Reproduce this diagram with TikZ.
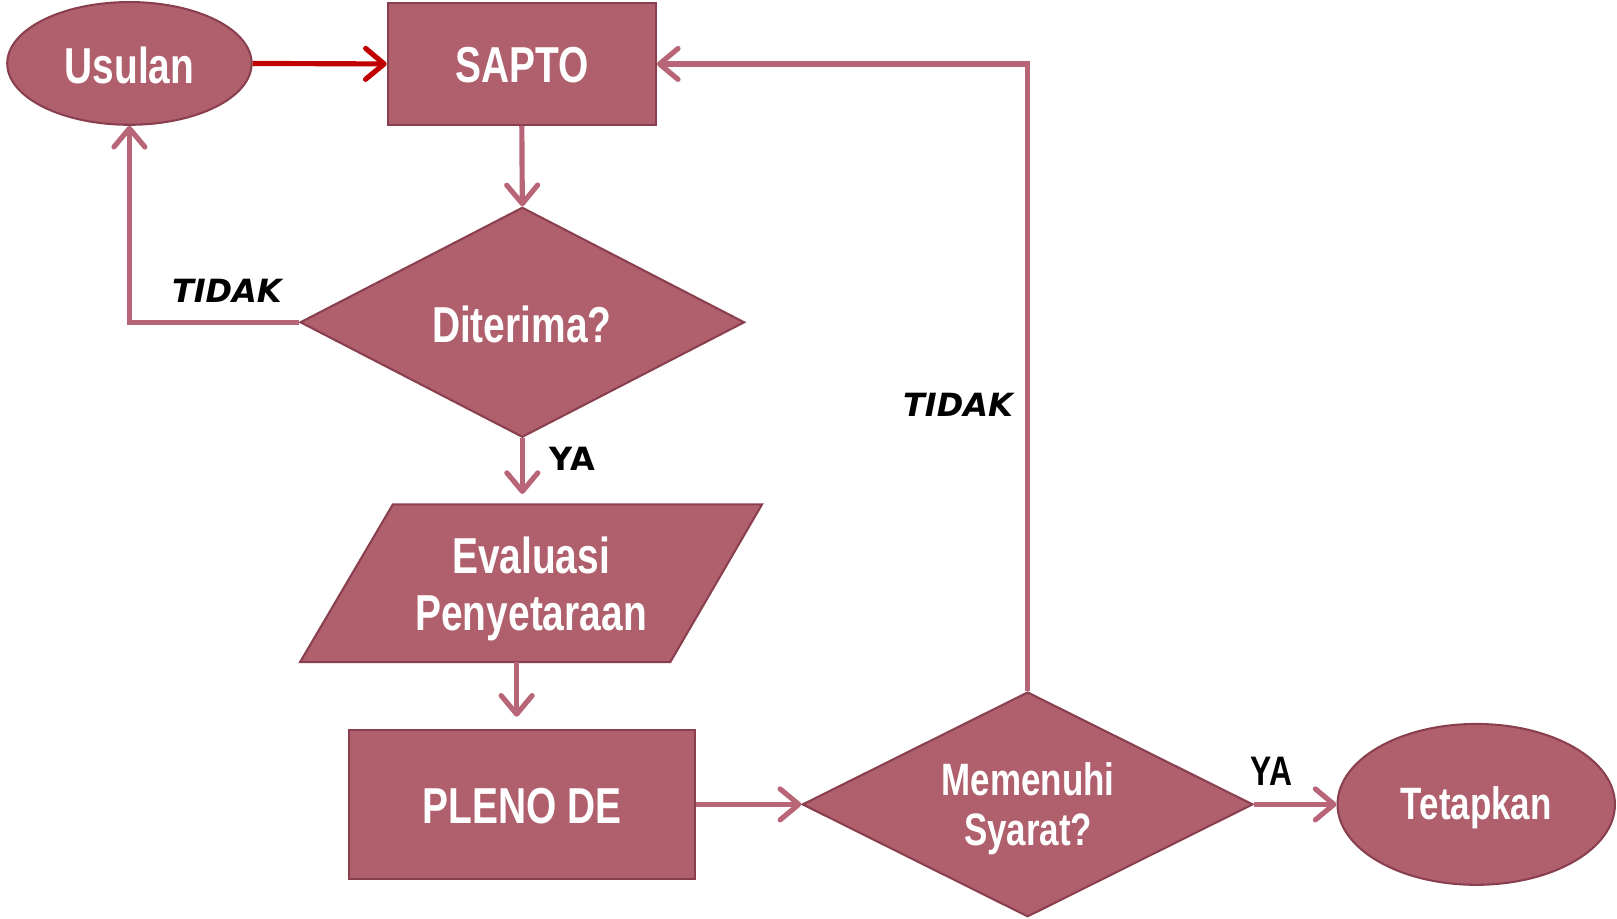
\documentclass[tikz,border=0pt]{standalone}
\usepackage{fontspec}
\setmainfont{Liberation Sans}
\newfontfamily\nar[FakeStretch=0.77]{Liberation Sans}
\newfontfamily\lab{DejaVu Sans}
\usetikzlibrary{shapes.geometric,arrows.meta}
\definecolor{boxfill}{HTML}{B05F6C}
\definecolor{boxline}{HTML}{8A3F4E}
\definecolor{conn}{HTML}{B86577}
\definecolor{redarrow}{HTML}{C00000}
\tikzset{
  shp/.style={fill=boxfill,draw=boxline,line width=1pt,inner sep=0pt,text=white,font=\nar\bfseries\fontsize{24.5}{28}\selectfont,align=center},
  rbox/.style={shp,rectangle},
  ebox/.style={shp,ellipse},
  dbox/.style={shp,diamond},
  txt/.style={text=white,font=\nar\bfseries\fontsize{24.5}{28}\selectfont,align=center,inner sep=0pt},
  conn/.style={draw=conn,line width=2.5pt,-{Straight Barb[length=9pt,width=15pt,line cap=round,line join=round]}},
  lbl/.style={font=\lab\bfseries\itshape\fontsize{15.5}{18}\selectfont,inner sep=0pt},
  lblu/.style={font=\lab\bfseries\fontsize{15.5}{18}\selectfont,inner sep=0pt},
  lbln/.style={font=\nar\bfseries\fontsize{20}{24}\selectfont,inner sep=0pt}
}
\begin{document}
\begin{tikzpicture}[x=0.5pt,y=-0.5pt]
\useasboundingbox (0,0) rectangle (1568,891);
% nodes
\node[ebox,minimum width=118.5pt,minimum height=59.5pt] (usulan) at (125.5,61.5) {};
\node[txt] (usulanT) at (125.5,63) {Usulan};
\node[rbox,minimum width=130pt,minimum height=59pt] (sapto) at (506,62) {};
\node[txt] (saptoT) at (506,63) {SAPTO};
\node[dbox,minimum width=215.5pt,minimum height=111.5pt] (diterima) at (506.5,312.5) {};
\node[txt] (diterimaT) at (506,315) {Diterima?};
% parallelogram
\coordinate (ptl) at (381,489);
\coordinate (ptr) at (739,489);
\coordinate (pbr) at (650,642);
\coordinate (pbl) at (291,642);
\filldraw[fill=boxfill,draw=boxline,line width=1pt] (ptl) -- (ptr) -- (pbr) -- (pbl) -- cycle;
\node[txt] (eval) at (515,571) {Evaluasi\\Penyetaraan};
\coordinate (evalbot) at (501,642);
\node[rbox,minimum width=168pt,minimum height=72pt] (pleno) at (506,780) {};
\node[txt] (plenoT) at (506,782) {PLENO DE};
\node[dbox,minimum width=218.5pt,minimum height=109pt] (memenuhi) at (996.5,780) {};
\node[txt,font=\nar\bfseries\fontsize{22}{24}\selectfont] (memenuhiT) at (997,784) {Memenuhi\\Syarat?};
\node[ebox,minimum width=134.5pt,minimum height=78pt] (tetapkan) at (1431.5,780) {};
\node[txt,font=\nar\bfseries\fontsize{22}{24}\selectfont] (tetapkanT) at (1431.5,783) {Tetapkan};
% connectors
\draw[conn,draw=redarrow] (usulan.east) -- (sapto.west);
\draw[conn] (sapto.south) -- (diterima.north);
\draw[conn] (diterima.west) -| (usulan.south);
\draw[conn] (diterima.south) -- ++(0,54);
\draw[conn] (evalbot) -- ++(0,53);
\draw[conn] (pleno.east) -- (memenuhi.west);
\draw[conn] (memenuhi.north) |- (sapto.east);
\draw[conn] (memenuhi.east) -- (tetapkan.west);
% labels
\node[lbl] (t1) at (220,282) {TIDAK};
\node[lbl] (t2) at (929,393) {TIDAK};
\node[lblu] (y1) at (555,445) {YA};
\node[lbln] (y2) at (1233,748) {YA};
\end{tikzpicture}
\end{document}
